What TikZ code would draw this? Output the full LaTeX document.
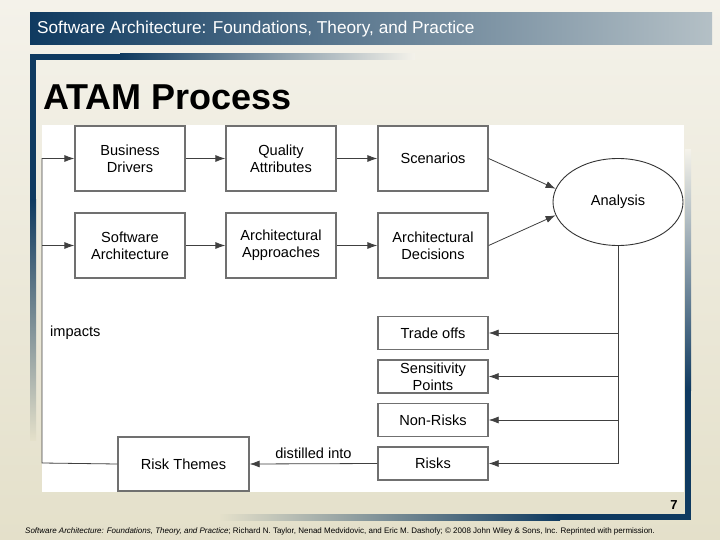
\documentclass[tikz,border=0pt]{standalone}
\usepackage{fontspec}
\setmainfont{Liberation Sans}
\usepackage{tikz}
\definecolor{slideblue}{RGB}{15,58,96}
\definecolor{slidegrey}{RGB}{180,192,198}
\definecolor{bgtop}{RGB}{244,242,234}
\definecolor{bgbot}{RGB}{228,224,202}
\definecolor{boxline}{RGB}{112,112,112}
\usetikzlibrary{shapes.geometric,arrows.meta}
\begin{document}
\begin{tikzpicture}[x=1pt, y=-1pt,
				>={Latex[length=10pt,width=7pt]},   %arrow tips
				font=\fontsize{14.6}{17}\selectfont,
				box/.style={draw=boxline, line width=1.3pt, fill=white, align=center, inner sep=1pt},
				wide/.style={box, minimum width=110pt, minimum height=65pt},
				flat/.style={box, minimum width=110pt, minimum height=33pt},
				link/.style={line width=0.8pt, draw=black!75}]
				%slide background
				\useasboundingbox (0,0) rectangle (720,540);
				\shade[top color=bgtop, bottom color=bgbot] (0,0) rectangle (720,540);
				% header bar
				\shade[left color=slideblue, right color=slidegrey] (30,13) rectangle (712,45);
				\node[anchor=west, white, inner sep=0pt, font=\fontsize{17.2}{18}\selectfont] (head) at (37,29) {Software Architecture: Foundations, Theory, and Practice};
				% frame bars
				\fill[slideblue] (30,54) rectangle (120,60);
				\shade[left color=slideblue, right color=bgtop] (120,54) rectangle (415,60);
				\fill[slideblue] (30,54) rectangle (36,200);
				\shade[top color=slideblue, bottom color=bgbot] (30,200) rectangle (36,440);
				\shade[top color=bgtop, bottom color=slideblue] (685,150) rectangle (691,390);
				\fill[slideblue] (685,390) rectangle (691,520);
				\shade[left color=bgbot, right color=slideblue] (220,514) rectangle (560,520);
				\fill[slideblue] (560,514) rectangle (691,520);
				% title
				\node[anchor=west, inner sep=0pt, font=\fontsize{36}{38}\selectfont\bfseries] (title) at (43,97) {ATAM Process};
				% diagram area
				\fill[white] (42,125) rectangle (684,492);
				% boxes
				\node[wide] (bd) at (130,158.5) {Business\\Drivers};
				\node[wide] (qa) at (281,158.5) {Quality\\Attributes};
				\node[wide] (sc) at (433,158.5) {Scenarios};
				\node[wide] (sa) at (130,245.5) {Software\\Architecture};
				\node[wide] (aa) at (281,245.5) {Architectural\\Approaches};
				\node[wide] (ad) at (433,245.5) {Architectural\\Decisions};
				\node[draw=black!80, line width=0.9pt, ellipse, minimum width=130pt, minimum height=87pt, inner sep=0pt] (an) at (618,202) {Analysis};
				\node[flat] (to) at (433,333) {Trade offs};
				\node[flat] (sp) at (433,376.5) {Sensitivity\\Points};
				\node[flat] (nr) at (433,420) {Non-Risks};
				\node[flat] (rk) at (433,463.5) {Risks};
				\node[box, minimum width=131pt, minimum height=54pt] (rt) at (183.5,464) {Risk Themes};
				% arrows, top part
				\foreach \a/\b in {bd/qa, qa/sc, sa/aa, aa/ad}
					\draw[->, link] (\a) -- (\b);
				\draw[->, link] (sc.east) -- (an.168);
				\draw[->, link] (ad.east) -- (an.192);
				% outputs of the analysis
				\draw[link] (an.south) -- (an.south |- rk.east);
				\foreach \b in {to, sp, nr, rk}
					\draw[->, link] (an.south |- \b.east) -- (\b.east);
				\draw[->, link] (rk.west) -- node[above=1pt] {distilled into} (rt.east);
				% feedback
				\coordinate (fb) at (42,463);
				\draw[->, link] (rt.west) -- (fb) |- (bd.west);
				\draw[->, link] (fb |- sa.west) -- (sa.west);
				\node[anchor=west, inner sep=0pt] (imp) at (50,333) {impacts};
				% page number and footer
				\node[font=\fontsize{13}{13}\selectfont\bfseries, inner sep=0pt] (page) at (674,505) {7};
				\node[anchor=west, inner sep=0pt, font=\fontsize{8}{9}\selectfont] (foot) at (25,531) {\textit{Software Architecture: Foundations, Theory, and Practice}; Richard N. Taylor, Nenad Medvidovic, and Eric M. Dashofy; © 2008 John Wiley \& Sons, Inc. Reprinted with permission.};
			\end{tikzpicture}
\end{document}
